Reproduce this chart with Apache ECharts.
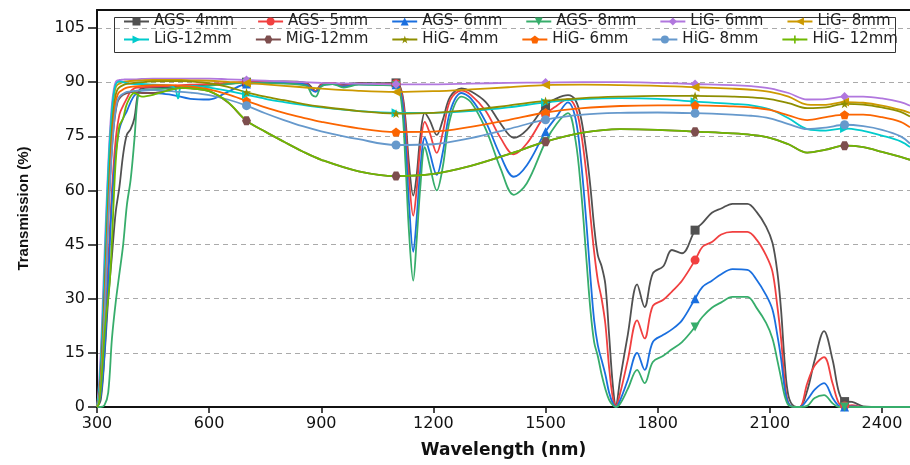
<!DOCTYPE html>
<html>
<head>
<meta charset="utf-8">
<script src="https://cdn.jsdelivr.net/npm/echarts@6/dist/echarts.min.js"></script>
<style>
  html, body { margin: 0; padding: 0; background: #fff; }
  #main { width: 910px; height: 465px; }
</style>
</head>
<body>
<div id="main"></div>
<script>
// wavelength grids (nm): dense one for the AGS samples, coarser one for the glasses
var wlAgs = [
  300, 310, 320, 330, 340, 350, 360, 370, 380, 390,
  400, 410, 420, 450, 500, 550, 600, 650, 700, 800,
  860, 875, 885, 900, 930, 960, 1000, 1050, 1100, 1115,
  1125, 1135, 1146, 1155, 1165, 1177, 1190, 1209, 1225, 1245,
  1275, 1300, 1340, 1380, 1415, 1450, 1500, 1530, 1560, 1580,
  1595, 1610, 1620, 1630, 1640, 1650, 1660, 1670, 1680, 1688,
  1700, 1720, 1745, 1765, 1787, 1815, 1838, 1865, 1900, 1920,
  1945, 1970, 2000, 2040, 2065, 2090, 2107, 2120, 2130, 2140,
  2150, 2165, 2180, 2200, 2220, 2245, 2268, 2285, 2300, 2320,
  2350, 2400, 2475
]
var wlGlass = [
  300, 305, 310, 315, 320, 325, 330, 335, 340, 345,
  350, 355, 360, 370, 380, 400, 420, 450, 500, 510,
  517, 525, 550, 600, 650, 700, 750, 800, 850, 900,
  1000, 1100, 1200, 1300, 1400, 1500, 1600, 1700, 1800, 1900,
  2000, 2050, 2100, 2150, 2200, 2250, 2300, 2350, 2400, 2450,
  2475
]

// transmission (%)
var ags4 = [
  0, 2, 14, 30, 42, 54, 61, 70, 75.5, 77,
  80, 87, 88.3, 88.5, 88.7, 89, 89.3, 89.6, 90, 90.2,
  89.8, 88.5, 87.5, 89.5, 89.8, 89.3, 89.8, 89.7, 89.8, 87.5,
  80, 67, 58.6, 64, 75, 81.5, 79.5, 75.4, 79.5, 86,
  88.3, 87.5, 84.5, 78.5, 74.6, 76.8, 83.5, 85.5, 86.4, 85,
  80, 70, 61, 50, 42, 39, 34, 20, 6, 0.5,
  8, 20, 34, 27.7, 37, 39, 43.5, 42.6, 49, 51,
  53.8, 55, 56.3, 56.3, 54, 50, 45.5, 37.5, 27, 12,
  3, 0.2, 0, 4.5, 13, 21, 13, 4, 1.5, 1.4,
  0.2, 0, 0
]
var ags5 = [
  0, 4, 20, 40, 60, 74, 81, 83.5, 85.5, 87.5,
  88.3, 88.5, 88.6, 88.8, 89, 89.3, 89.5, 89.8, 90, 90,
  89.5, 88, 87.5, 89.3, 89.8, 89, 89.6, 89.5, 89.6, 87,
  78, 63, 53, 60, 72, 79, 76, 70.4, 76, 85,
  87.7, 86.5, 82, 74.5, 70, 73, 81, 83.5, 85.3, 83,
  76, 64, 53, 43, 35, 30, 23, 11, 2.5, 0.3,
  4, 13, 24, 19, 28, 29.7, 32, 35, 40.7, 44.4,
  45.7, 47.8, 48.5, 48.5, 46.3, 42, 37.5, 28, 19, 7,
  1, 0, 0, 6.5, 11.5, 13.8, 6.5, 1, 0.3, 0.5,
  0, 0, 0
]
var ags6 = [
  0, 3, 15, 35, 57, 70, 77, 80, 82, 84.5,
  86.3, 87, 87.2, 87, 86.5, 85.4, 85.2, 87.3, 89.5, 89.8,
  89.3, 87.8, 87.3, 89, 89.5, 88.8, 89.4, 89.3, 89.3, 86,
  74, 56, 43, 52, 66, 74.6, 70.5, 64.3, 70.5, 82,
  87, 85.5, 79, 69.5, 63.8, 67, 76.3, 80.5, 84.4, 80,
  68, 50, 36, 24, 17, 13, 9, 4, 1, 0,
  2, 7.5, 15, 10.3, 18, 20, 21.5, 24, 30, 33.3,
  35, 36.8, 38.2, 38, 35.2, 31, 27, 20, 13.5, 5,
  1, 0, 0, 2, 4.8, 6.6, 2.5, 0.3, 0, 0.2,
  0, 0, 0
]
var ags8 = [
  0, 0, 0.5, 4, 19, 29, 37, 45, 56, 63,
  74, 86.5, 87.8, 88, 88.3, 88.6, 89, 89.5, 89.8, 89.6,
  89, 86.5, 86, 88.8, 89.5, 88.5, 89.3, 89.2, 89, 84,
  68, 48, 35, 46, 61, 72, 67, 60, 66.5, 80,
  86, 84.5, 77, 66, 58.8, 62, 73.5, 78.5, 81.4, 74,
  60, 40, 27, 18, 14, 9, 5, 2, 0.5, 0,
  1, 5, 10.3, 6.6, 12.5, 14.2, 16, 18, 22.2, 25,
  27.5, 29, 30.5, 30.5, 27.4, 23.3, 19, 13, 8, 3,
  0.5, 0, 0, 0.3, 2.5, 3.3, 1, 0, 0, 0,
  0, 0, 0
]
var lig6 = [
  0, 6, 15, 28, 42, 55, 67, 77, 84, 88,
  90, 90.5, 90.6, 90.7, 90.8, 90.8, 90.9, 91, 91, 91,
  91, 91, 91, 91, 90.8, 90.6, 90.4, 90.2, 90, 89.8,
  89.6, 89.4, 89.4, 89.6, 89.8, 89.9, 90, 90, 89.8, 89.5,
  89.2, 88.9, 88.3, 87, 85.2, 85.3, 86, 86, 85.5, 84.5,
  83.5
]
var lig8 = [
  0, 3, 10, 21, 35, 49, 62, 73, 81, 86,
  88.5, 89.3, 89.6, 90, 90.2, 90.4, 90.5, 90.6, 90.6, 90.6,
  90.6, 90.6, 90.5, 90.4, 90.1, 89.8, 89.4, 89, 88.6, 88.2,
  87.6, 87.3, 87.5, 88, 88.6, 89.2, 89.3, 89.2, 89, 88.6,
  88.2, 87.9, 87.3, 86, 83.8, 83.7, 84.5, 84.3, 83.5, 82.3,
  81.5
]
var lig12 = [
  0, 4, 12, 24, 38, 52, 65, 75, 82, 87,
  89.3, 90, 90.2, 90, 89.7, 89.5, 89.5, 89.3, 89, 88,
  85.5, 88.7, 89, 88.5, 87.6, 86.5, 85.4, 84.5, 83.7, 83,
  82, 81.5, 81.5, 82, 83, 84.4, 85.3, 85.6, 85.4, 84.6,
  84, 83.6, 82.5, 80, 77, 76.6, 77.2, 76.5, 75.2, 73.6,
  72
]
var mig12 = [
  0, 2, 8, 18, 30, 42, 54, 64, 72, 78,
  82, 84.5, 85.5, 86.5, 87, 87.3, 87, 87, 88, 88.2,
  88.3, 88.4, 88.3, 87.5, 84.4, 79.3, 76.3, 73.5, 70.8, 68.5,
  65.3, 64, 64.6, 66.8, 70, 73.5, 76, 77, 76.8, 76.3,
  75.8, 75.4, 74.6, 72.8, 70.5, 71.3, 72.4, 72, 70.7, 69.3,
  68.5
]
var hig4 = [
  0, 2, 8, 17, 30, 44, 57, 68, 77, 83,
  86.5, 88, 88.6, 89.2, 89.5, 89.8, 90, 90.2, 90.3, 90.3,
  90.3, 90.3, 90.2, 89.7, 88.7, 87.2, 86, 85, 84, 83.2,
  82, 81.3, 81.5, 82.3, 83.5, 84.8, 85.6, 86, 86.2, 86.2,
  86, 85.8, 85.3, 84.2, 82.8, 83, 84, 83.8, 83, 81.8,
  80.5
]
var hig6 = [
  0, 2, 7, 15, 27, 40, 53, 64, 73, 80,
  84.5, 86.5, 87.3, 88, 88.5, 88.8, 89, 89.2, 89.2, 89.1,
  89, 89, 88.8, 88, 86.6, 84.8, 83, 81.5, 80.2, 79,
  77.2, 76.2, 76.3, 77.6, 79.5, 81.6, 82.8, 83.4, 83.6, 83.6,
  83.3, 83, 82.3, 80.8, 79.5, 80.3, 81, 81, 80.3, 79,
  77.5
]
var hig8 = [
  0, 2, 6, 14, 25, 38, 51, 62, 71, 78,
  82.5, 85, 86, 86.8, 87.3, 87.6, 87.8, 87.8, 87.5, 87.4,
  87.3, 87.3, 87.1, 86.4, 85.2, 83.5, 81.4, 79.5, 77.8, 76.4,
  74.2, 72.6, 72.8, 74.5, 77, 79.6, 81, 81.5, 81.6, 81.4,
  81, 80.7, 80, 78.4, 77, 77.4, 78.2, 77.8, 76.8, 75,
  73
]
var hig12 = [
  0, 1, 5, 12, 20, 26, 30, 36, 46, 58,
  68, 74, 78, 80, 84, 87, 86, 86.5, 88, 88.2,
  88.3, 88.4, 88.3, 87.5, 84.5, 79.3, 76.3, 73.5, 70.8, 68.5,
  65.3, 64, 64.6, 66.8, 70, 73.5, 76, 77, 76.8, 76.3,
  75.8, 75.4, 74.6, 72.8, 70.5, 71.3, 72.4, 72, 70.7, 69.3,
  68.5
]

// axis ticks and where the symbols sit on each curve
var xTicks = [300, 600, 900, 1200, 1500, 1800, 2100, 2400]
var yTicks = [0, 15, 30, 45, 60, 75, 90, 105]
var markerWl = [700, 1100, 1500, 1900, 2300]

var names = ['AGS- 4mm', 'AGS- 5mm', 'AGS- 6mm', 'AGS- 8mm', 'LiG- 6mm', 'LiG- 8mm',
  'LiG-12mm', 'MiG-12mm', 'HiG- 4mm', 'HiG- 6mm', 'HiG- 8mm', 'HiG- 12mm']
var colors = ['#515151', '#F14040', '#1A6FDF', '#37AD6B', '#B177DE', '#CC9900',
  '#00CBCC', '#7D4E4E', '#8E8E00', '#FB6501', '#6699CC', '#6FB802']
var symbols = [
  'rect', 'circle', 'triangle',
  'path://M0,0 L10,0 L5,10 Z',
  'diamond',
  'path://M0,5 L10,0 L10,10 Z',
  'path://M0,0 L10,5 L0,10 Z',
  'path://M2.5,0 L7.5,0 L10,5 L7.5,10 L2.5,10 L0,5 Z',
  'path://M5,0 L6.2,3.6 L10,3.6 L6.9,5.8 L8.1,9.5 L5,7.2 L1.9,9.5 L3.1,5.8 L0,3.6 L3.8,3.6 Z',
  'path://M5,0 L10,3.8 L8.1,10 L1.9,10 L0,3.8 Z',
  'circle',
  'path://M4,0 L6,0 L6,4 L10,4 L10,6 L6,6 L6,10 L4,10 L4,6 L0,6 L0,4 L4,4 Z'
]
var values = [ags4, ags5, ags6, ags8, lig6, lig8, lig12, mig12, hig4, hig6, hig8, hig12]

var series = names.map(function (name, i) {
  var wl = i < 4 ? wlAgs : wlGlass
  var showMarks = i !== 11 // HiG-12 markers are not seen on the plot
  return {
    name: name,
    type: 'line',
    data: wl.map(function (w, k) { return [w, values[i][k]] }),
    symbol: symbols[i],
    symbolSize: function (v) {
      return showMarks && markerWl.indexOf(v[0]) >= 0 ? 9 : 0
    },
    showAllSymbol: true,
    smooth: 0.35,
    color: colors[i],
    lineStyle: { width: 1.8, color: colors[i] },
    itemStyle: { color: colors[i] },
    silent: true
  }
})

var legendBase = {
  left: 123,
  orient: 'horizontal',
  padding: 0,
  itemWidth: 25,
  itemHeight: 10,
  itemGap: 23,
  textStyle: { fontFamily: 'DejaVu Sans', fontSize: 15, color: '#222' }
}

function plain(v) { return String(v) }

var myChart = echarts.init(document.getElementById('main'))
var option = {
  animation: false,
  backgroundColor: '#fff',
  grid: { left: 97, right: 0, top: 10, bottom: 58 },
  legend: [
    Object.assign({}, legendBase, { top: 14, data: names.slice(0, 6) }),
    Object.assign({}, legendBase, { top: 32, data: names.slice(6) })
  ],
  // frame round the legend
  graphic: [{
    type: 'rect',
    left: 112,
    top: 15,
    shape: { width: 781, height: 35 },
    style: { fill: 'none', stroke: '#333', lineWidth: 1 },
    silent: true
  }],
  xAxis: [{
    type: 'value',
    min: 300,
    max: 2475,
    interval: 300,
    name: 'Wavelength (nm)',
    nameLocation: 'middle',
    nameGap: 35,
    nameTextStyle: { fontFamily: 'DejaVu Sans', fontWeight: 'bold', fontSize: 17, color: '#111' },
    axisLine: { show: true, lineStyle: { color: '#111', width: 2 } },
    axisTick: { show: true, length: 6, lineStyle: { color: '#111', width: 1.5 }, customValues: xTicks },
    axisLabel: { margin: 9, fontFamily: 'DejaVu Sans', fontSize: 16, color: '#111', customValues: xTicks, formatter: plain },
    splitLine: { show: false }
  }, {
    // top border of the frame
    type: 'value',
    position: 'top',
    min: 300,
    max: 2475,
    axisLine: { show: true, lineStyle: { color: '#111', width: 2 } },
    axisTick: { show: false },
    axisLabel: { show: false },
    splitLine: { show: false }
  }],
  yAxis: {
    type: 'value',
    min: 0,
    max: 110,
    interval: 15,
    name: 'Transmission (%)',
    nameLocation: 'middle',
    nameGap: 66,
    nameTextStyle: { fontFamily: 'Liberation Sans', fontWeight: 'bold', fontSize: 15, color: '#111' },
    axisLine: { show: true, lineStyle: { color: '#111', width: 2 } },
    axisTick: { show: true, length: 9, lineStyle: { color: '#111', width: 1.5 }, customValues: yTicks },
    axisLabel: { margin: 12, fontFamily: 'DejaVu Sans', fontSize: 16, color: '#111', customValues: yTicks, formatter: plain },
    splitLine: { show: true, lineStyle: { color: '#aaa', type: [5, 4], width: 1 } }
  },
  series: series
}
myChart.setOption(option)
</script>
</body>
</html>
